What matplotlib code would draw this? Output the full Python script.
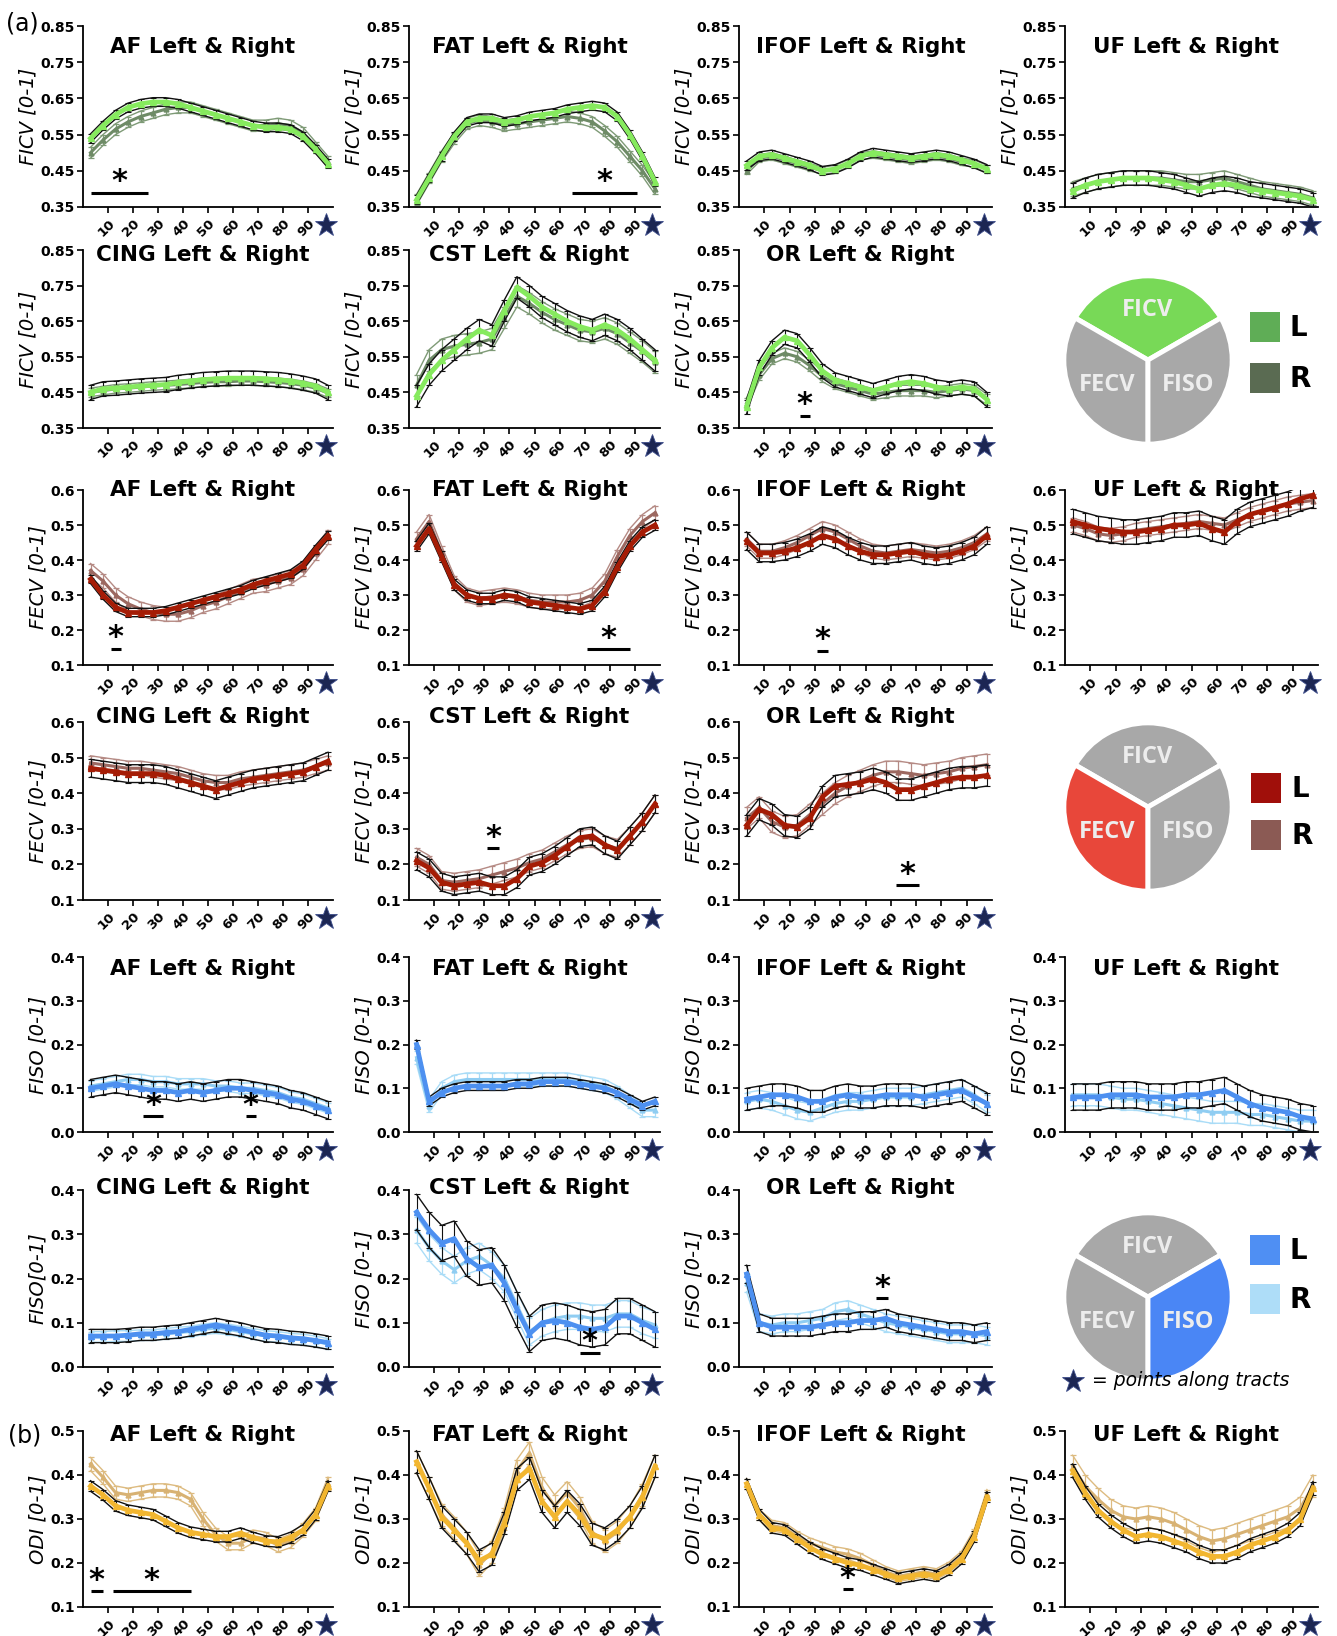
import matplotlib
matplotlib.use("Agg")
import matplotlib.pyplot as plt
from matplotlib.patches import Rectangle
import matplotlib.transforms as mtransforms

plt.rcParams['font.family'] = ['DejaVu Sans']

# ---------------- data ----------------
POINTS = [3, 8, 13, 18, 23, 28, 33, 38, 43, 48, 53, 58, 63, 68, 73, 78, 83, 88, 93, 98]
XTICKS = [10, 20, 30, 40, 50, 60, 70, 80, 90]

FICV_AF_L = [0.54,0.575,0.605,0.625,0.635,0.64,0.64,0.635,0.625,0.615,0.605,0.595,0.585,0.575,0.57,0.57,0.565,0.545,0.51,0.47]
FICV_AF_R = [0.50,0.535,0.565,0.585,0.60,0.61,0.62,0.625,0.625,0.615,0.605,0.595,0.585,0.575,0.575,0.58,0.575,0.555,0.515,0.475]
FICV_FAT_L = [0.37,0.43,0.49,0.545,0.585,0.595,0.595,0.585,0.59,0.60,0.605,0.61,0.62,0.625,0.63,0.625,0.60,0.55,0.49,0.42]
FICV_FAT_R = [0.37,0.43,0.49,0.54,0.58,0.59,0.585,0.575,0.58,0.585,0.59,0.595,0.60,0.595,0.585,0.56,0.53,0.49,0.45,0.40]
FICV_IFOF_L = [0.465,0.49,0.495,0.485,0.475,0.465,0.45,0.455,0.47,0.49,0.50,0.495,0.49,0.485,0.49,0.495,0.49,0.48,0.47,0.455]
FICV_IFOF_R = [0.45,0.485,0.49,0.48,0.47,0.46,0.45,0.455,0.47,0.49,0.495,0.49,0.485,0.48,0.485,0.49,0.485,0.475,0.47,0.455]
FICV_UF_L = [0.395,0.41,0.42,0.425,0.43,0.43,0.43,0.425,0.42,0.41,0.40,0.41,0.415,0.41,0.40,0.395,0.39,0.385,0.38,0.37]
FICV_UF_R = [0.40,0.41,0.42,0.425,0.43,0.43,0.43,0.43,0.425,0.42,0.42,0.425,0.43,0.42,0.41,0.40,0.395,0.39,0.385,0.375]
FICV_CING_L = [0.45,0.46,0.462,0.465,0.468,0.47,0.472,0.478,0.482,0.486,0.488,0.49,0.49,0.49,0.488,0.486,0.482,0.476,0.468,0.45]
FICV_CING_R = [0.45,0.455,0.46,0.462,0.465,0.468,0.47,0.472,0.475,0.478,0.48,0.48,0.482,0.482,0.48,0.478,0.475,0.47,0.462,0.448]
FICV_CST_L = [0.44,0.50,0.54,0.57,0.60,0.625,0.61,0.68,0.745,0.72,0.69,0.67,0.65,0.635,0.625,0.64,0.625,0.60,0.57,0.54]
FICV_CST_R = [0.47,0.54,0.57,0.58,0.585,0.59,0.60,0.66,0.72,0.70,0.675,0.655,0.64,0.625,0.62,0.63,0.615,0.59,0.565,0.535]
FICV_OR_L = [0.41,0.52,0.575,0.605,0.595,0.555,0.51,0.485,0.475,0.465,0.455,0.465,0.475,0.48,0.475,0.465,0.46,0.465,0.46,0.43]
FICV_OR_R = [0.42,0.50,0.545,0.56,0.55,0.525,0.495,0.475,0.465,0.455,0.445,0.45,0.455,0.455,0.455,0.45,0.455,0.46,0.455,0.43]

FECV_AF_L = [0.345,0.30,0.265,0.25,0.25,0.25,0.255,0.265,0.275,0.285,0.295,0.305,0.315,0.33,0.34,0.35,0.36,0.385,0.43,0.47]
FECV_AF_R = [0.37,0.34,0.30,0.275,0.26,0.25,0.245,0.245,0.255,0.27,0.28,0.295,0.31,0.325,0.33,0.34,0.35,0.375,0.42,0.465]
FECV_FAT_L = [0.44,0.49,0.41,0.33,0.30,0.29,0.29,0.30,0.295,0.28,0.275,0.27,0.265,0.26,0.27,0.31,0.38,0.44,0.48,0.50]
FECV_FAT_R = [0.46,0.51,0.42,0.335,0.30,0.29,0.295,0.30,0.295,0.285,0.28,0.28,0.28,0.285,0.30,0.34,0.41,0.47,0.51,0.535]
FECV_IFOF_L = [0.455,0.42,0.42,0.425,0.435,0.45,0.47,0.46,0.44,0.425,0.415,0.415,0.42,0.425,0.415,0.41,0.415,0.425,0.44,0.47]
FECV_IFOF_R = [0.46,0.425,0.425,0.435,0.45,0.47,0.49,0.48,0.46,0.44,0.425,0.42,0.425,0.43,0.425,0.42,0.425,0.435,0.45,0.475]
FECV_UF_L = [0.51,0.50,0.49,0.485,0.48,0.48,0.485,0.49,0.50,0.50,0.505,0.49,0.48,0.51,0.53,0.54,0.55,0.56,0.575,0.585]
FECV_UF_R = [0.50,0.49,0.475,0.47,0.475,0.485,0.49,0.495,0.50,0.505,0.51,0.505,0.50,0.515,0.53,0.54,0.55,0.56,0.565,0.57]
FECV_CING_L = [0.47,0.465,0.46,0.455,0.455,0.455,0.45,0.44,0.43,0.42,0.41,0.42,0.43,0.44,0.445,0.45,0.455,0.46,0.475,0.49]
FECV_CING_R = [0.485,0.48,0.475,0.47,0.47,0.465,0.46,0.455,0.445,0.435,0.43,0.43,0.44,0.445,0.45,0.455,0.46,0.465,0.475,0.485]
FECV_CST_L = [0.21,0.19,0.15,0.14,0.145,0.15,0.14,0.14,0.16,0.195,0.205,0.225,0.25,0.275,0.28,0.255,0.24,0.28,0.32,0.37]
FECV_CST_R = [0.22,0.20,0.155,0.15,0.155,0.16,0.17,0.18,0.19,0.205,0.215,0.235,0.255,0.27,0.275,0.255,0.245,0.28,0.32,0.37]
FECV_OR_L = [0.31,0.355,0.34,0.31,0.305,0.33,0.39,0.42,0.425,0.43,0.44,0.43,0.41,0.41,0.42,0.43,0.44,0.445,0.445,0.45]
FECV_OR_R = [0.33,0.36,0.32,0.305,0.31,0.34,0.37,0.40,0.42,0.435,0.45,0.46,0.46,0.455,0.45,0.455,0.46,0.47,0.475,0.48]

FISO_AF_L = [0.10,0.105,0.11,0.105,0.10,0.095,0.095,0.09,0.095,0.09,0.095,0.10,0.10,0.095,0.09,0.085,0.075,0.07,0.06,0.05]
FISO_AF_R = [0.105,0.11,0.115,0.12,0.12,0.115,0.115,0.11,0.11,0.11,0.105,0.105,0.10,0.10,0.095,0.09,0.08,0.075,0.065,0.055]
FISO_FAT_L = [0.20,0.07,0.09,0.10,0.105,0.105,0.105,0.105,0.11,0.11,0.115,0.115,0.115,0.11,0.105,0.10,0.09,0.075,0.06,0.07]
FISO_FAT_R = [0.17,0.06,0.10,0.115,0.12,0.12,0.12,0.12,0.12,0.12,0.12,0.12,0.12,0.115,0.11,0.105,0.09,0.07,0.05,0.05]
FISO_IFOF_L = [0.075,0.08,0.085,0.085,0.08,0.07,0.07,0.08,0.085,0.08,0.08,0.085,0.085,0.085,0.08,0.085,0.09,0.095,0.08,0.065]
FISO_IFOF_R = [0.07,0.075,0.07,0.06,0.05,0.045,0.055,0.065,0.07,0.07,0.075,0.08,0.08,0.08,0.085,0.09,0.095,0.10,0.085,0.065]
FISO_UF_L = [0.08,0.08,0.08,0.085,0.085,0.085,0.08,0.08,0.08,0.085,0.085,0.09,0.095,0.08,0.065,0.055,0.05,0.045,0.035,0.03]
FISO_UF_R = [0.085,0.085,0.085,0.08,0.075,0.075,0.07,0.065,0.06,0.055,0.05,0.045,0.045,0.045,0.04,0.04,0.035,0.03,0.025,0.025]
FISO_CING_L = [0.07,0.07,0.07,0.072,0.075,0.075,0.078,0.08,0.085,0.09,0.095,0.09,0.085,0.078,0.072,0.07,0.066,0.064,0.06,0.055]
FISO_CING_R = [0.068,0.068,0.07,0.07,0.072,0.072,0.075,0.078,0.08,0.085,0.088,0.085,0.08,0.075,0.07,0.068,0.064,0.062,0.058,0.052]
FISO_CST_L = [0.35,0.31,0.28,0.29,0.245,0.225,0.23,0.19,0.13,0.075,0.10,0.105,0.10,0.09,0.085,0.09,0.115,0.115,0.10,0.085]
FISO_CST_R = [0.31,0.27,0.24,0.22,0.24,0.25,0.23,0.20,0.14,0.08,0.10,0.11,0.115,0.115,0.11,0.11,0.12,0.12,0.105,0.095]
FISO_OR_L = [0.21,0.10,0.09,0.09,0.09,0.09,0.095,0.10,0.10,0.105,0.105,0.11,0.10,0.095,0.09,0.085,0.08,0.08,0.075,0.08]
FISO_OR_R = [0.19,0.10,0.095,0.10,0.10,0.105,0.11,0.125,0.13,0.12,0.11,0.10,0.095,0.09,0.085,0.08,0.075,0.075,0.075,0.07]

ODI_AF_L = [0.375,0.355,0.33,0.32,0.315,0.31,0.295,0.28,0.27,0.265,0.26,0.26,0.268,0.258,0.25,0.248,0.258,0.275,0.31,0.375]
ODI_AF_R = [0.425,0.395,0.36,0.355,0.36,0.365,0.365,0.36,0.345,0.30,0.265,0.245,0.245,0.26,0.255,0.24,0.25,0.275,0.31,0.38]
ODI_FAT_L = [0.43,0.37,0.305,0.275,0.245,0.205,0.22,0.29,0.39,0.415,0.34,0.305,0.34,0.31,0.265,0.255,0.275,0.305,0.35,0.42]
ODI_FAT_R = [0.43,0.37,0.31,0.28,0.245,0.195,0.225,0.30,0.41,0.45,0.37,0.33,0.36,0.325,0.27,0.25,0.27,0.305,0.355,0.42]
ODI_IFOF_L = [0.38,0.31,0.28,0.275,0.255,0.235,0.22,0.21,0.20,0.195,0.185,0.175,0.165,0.17,0.175,0.17,0.185,0.21,0.26,0.35]
ODI_IFOF_R = [0.38,0.31,0.285,0.28,0.26,0.245,0.235,0.225,0.22,0.21,0.195,0.18,0.17,0.175,0.18,0.175,0.19,0.215,0.265,0.355]
ODI_UF_L = [0.41,0.36,0.32,0.295,0.275,0.26,0.265,0.26,0.25,0.24,0.225,0.215,0.215,0.225,0.24,0.25,0.26,0.275,0.30,0.37]
ODI_UF_R = [0.42,0.375,0.345,0.32,0.305,0.30,0.305,0.30,0.29,0.275,0.26,0.25,0.255,0.265,0.275,0.285,0.295,0.305,0.325,0.375]

# error bar half-widths (per tract, in order AF, FAT, IFOF, UF, CING, CST, OR)
FICV_ERR_L = [0.012, 0.012, 0.012, 0.02, 0.02, 0.03, 0.02]
FICV_ERR_R = [0.015, 0.015, 0.010, 0.02, 0.012, 0.03, 0.015]
FECV_ERR_L = [0.012, 0.015, 0.025, 0.035, 0.025, 0.025, 0.03]
FECV_ERR_R = [0.02, 0.02, 0.02, 0.02, 0.02, 0.025, 0.03]
FISO_ERR_L = [0.02, 0.01, 0.025, 0.03, 0.015, 0.04, 0.02]
FISO_ERR_R = [0.012, 0.015, 0.02, 0.025, 0.012, 0.03, 0.02]
ODI_ERR_L = [0.012, 0.025, 0.012, 0.015]
ODI_ERR_R = [0.015, 0.025, 0.012, 0.025]

# significant ranges (start, end, level)
FICV_SIG = [[(3, 26, 0.39)], [(65, 91, 0.39)], [], [], [], [], [(24, 28, 0.385)]]
FECV_SIG = [[(11, 15, 0.147)], [(71, 88, 0.145)], [(31, 35, 0.14)], [], [], [(31, 36, 0.245)], [(62, 71, 0.141)]]
FISO_SIG = [[(24, 32, 0.036), (65, 69, 0.036)], [], [], [], [], [(68, 76, 0.032)], [(54, 59, 0.155)]]
ODI_SIG = [[(3, 8, 0.136), (12, 43, 0.136)], [], [(41, 45, 0.14)], []]

TRACTS = ['AF', 'FAT', 'IFOF', 'UF', 'CING', 'CST', 'OR']
YLIMS = {'FICV': (0.35, 0.85), 'FECV': (0.1, 0.6), 'FISO': (0.0, 0.4), 'ODI': (0.1, 0.5)}
YTICKS = {'FICV': [0.35, 0.45, 0.55, 0.65, 0.75, 0.85],
          'FECV': [0.1, 0.2, 0.3, 0.4, 0.5, 0.6],
          'FISO': [0.0, 0.1, 0.2, 0.3, 0.4],
          'ODI': [0.1, 0.2, 0.3, 0.4, 0.5]}
YTICKLABELS = {'FICV': ['0.35', '0.45', '0.55', '0.65', '0.75', '0.85'],
               'FECV': ['0.1', '0.2', '0.3', '0.4', '0.5', '0.6'],
               'FISO': ['0.0', '0.1', '0.2', '0.3', '0.4'],
               'ODI': ['0.1', '0.2', '0.3', '0.4', '0.5']}

# colours: (left marker, left error, right marker, right error)
COLORS = {'FICV': ('#86EA5E', '#111111', '#6E8B66', '#7E9A76'),
          'FECV': ('#A51C05', '#111111', '#9C6860', '#B58A84'),
          'FISO': ('#4D90F0', '#111111', '#8FCDF2', '#A9DCF7'),
          'ODI': ('#F2B630', '#111111', '#D8B273', '#DDBB80')}

DATA = {
    'FICV': [(FICV_AF_L, FICV_AF_R), (FICV_FAT_L, FICV_FAT_R), (FICV_IFOF_L, FICV_IFOF_R), (FICV_UF_L, FICV_UF_R),
             (FICV_CING_L, FICV_CING_R), (FICV_CST_L, FICV_CST_R), (FICV_OR_L, FICV_OR_R)],
    'FECV': [(FECV_AF_L, FECV_AF_R), (FECV_FAT_L, FECV_FAT_R), (FECV_IFOF_L, FECV_IFOF_R), (FECV_UF_L, FECV_UF_R),
             (FECV_CING_L, FECV_CING_R), (FECV_CST_L, FECV_CST_R), (FECV_OR_L, FECV_OR_R)],
    'FISO': [(FISO_AF_L, FISO_AF_R), (FISO_FAT_L, FISO_FAT_R), (FISO_IFOF_L, FISO_IFOF_R), (FISO_UF_L, FISO_UF_R),
             (FISO_CING_L, FISO_CING_R), (FISO_CST_L, FISO_CST_R), (FISO_OR_L, FISO_OR_R)],
    'ODI': [(ODI_AF_L, ODI_AF_R), (ODI_FAT_L, ODI_FAT_R), (ODI_IFOF_L, ODI_IFOF_R), (ODI_UF_L, ODI_UF_R)],
}
ERRS = {'FICV': (FICV_ERR_L, FICV_ERR_R), 'FECV': (FECV_ERR_L, FECV_ERR_R),
        'FISO': (FISO_ERR_L, FISO_ERR_R), 'ODI': (ODI_ERR_L, ODI_ERR_R)}
SIGS = {'FICV': FICV_SIG, 'FECV': FECV_SIG, 'FISO': FISO_SIG, 'ODI': ODI_SIG}

# ---------------- layout ----------------
W, H = 1337, 1636
fig = plt.figure(figsize=(W / 100, H / 100), dpi=100)

COL_X = [(83, 333), (409, 660), (739, 992), (1065, 1318)]
ROW_Y = [(26, 207), (250, 428), (490, 665), (722, 900), (957, 1132), (1190, 1367), (1431, 1607)]
TITLE_Y = [0.885, 0.97, 1.0, 1.03, 0.93, 1.01, 0.975]
ROW_MEASURE = ['FICV', 'FICV', 'FECV', 'FECV', 'FISO', 'FISO', 'ODI']
STAR_COLOR = '#1C2653'


def px_axes(l, t, r, b, **kw):
    return fig.add_axes([l / W, 1 - b / H, (r - l) / W, (b - t) / H], **kw)


def draw_panel(row, col, measure, tidx):
    l, r = COL_X[col]
    t, b = ROW_Y[row]
    ax = px_axes(l, t, r, b)
    Ld, Rd = DATA[measure][tidx]
    eL = ERRS[measure][0][tidx]
    eR = ERRS[measure][1][tidx]
    cL, ceL, cR, ceR = COLORS[measure]
    # right hemisphere
    ax.errorbar(POINTS, Rd, yerr=eR, fmt='none', ecolor=ceR, elinewidth=0.9, capsize=2.5, capthick=0.9, zorder=2)
    ax.plot(POINTS, [v + eR for v in Rd], color=ceR, lw=1.0, zorder=2)
    ax.plot(POINTS, [v - eR for v in Rd], color=ceR, lw=1.0, zorder=2)
    ax.plot(POINTS, Rd, color=cR, lw=2.2, marker='^', ms=3.5, zorder=3)
    # left hemisphere
    ax.errorbar(POINTS, Ld, yerr=eL, fmt='none', ecolor=ceL, elinewidth=0.8, capsize=2.5, capthick=0.8, zorder=4)
    ax.plot(POINTS, [v + eL for v in Ld], color=ceL, lw=1.0, zorder=4)
    ax.plot(POINTS, [v - eL for v in Ld], color=ceL, lw=1.0, zorder=4)
    ax.plot(POINTS, Ld, color=cL, lw=3.4, marker='^', ms=4.5, zorder=5)

    ax.set_xlim(0, 100)
    ax.set_ylim(*YLIMS[measure])
    ax.set_yticks(YTICKS[measure])
    ax.set_yticklabels(YTICKLABELS[measure], fontsize=10, fontweight='bold')
    ax.set_xticks(XTICKS)
    ax.set_xticklabels([str(v) for v in XTICKS], rotation=45, ha='right', va='top',
                       rotation_mode='anchor', fontsize=9.5, fontweight='bold')
    ax.tick_params(axis='both', direction='out', length=4, width=1.2, pad=2)
    ax.tick_params(axis='x', pad=3)
    for s in ['top', 'right']:
        ax.spines[s].set_visible(False)
    for s in ['left', 'bottom']:
        ax.spines[s].set_linewidth(1.3)
    tract = TRACTS[tidx]
    ylab = 'FISO[0-1]' if (measure == 'FISO' and tract == 'CING') else f'{measure} [0-1]'
    ax.set_ylabel(ylab, fontsize=14, fontstyle='italic', labelpad=2)
    ax.text(0.48, TITLE_Y[row], f'{tract} Left & Right', transform=ax.transAxes, ha='center', va='center',
            fontsize=15.5, fontweight='heavy')
    # star marking the end of the tract axis
    tr = mtransforms.offset_copy(ax.get_xaxis_transform(), fig=fig, x=0, y=-13, units='points')
    ax.plot([97], [0], transform=tr, marker='*', ms=17, color=STAR_COLOR, mec='#3C4C8A', mew=0.6,
            clip_on=False, zorder=10)
    # significance bars
    for (x0, x1, yv) in SIGS[measure][tidx]:
        ax.plot([x0, x1], [yv, yv], color='black', lw=2.2, solid_capstyle='butt', zorder=6)
        ax.annotate('*', ((x0 + x1) / 2, yv), xytext=(0, -2.5), textcoords='offset points',
                    ha='center', va='bottom', fontsize=22, fontweight='bold', zorder=6)
    return ax


for row in range(7):
    measure = ROW_MEASURE[row]
    if row in (0, 2, 4, 6):
        tids = [0, 1, 2, 3]
    else:
        tids = [4, 5, 6]
    for col, tidx in enumerate(tids):
        draw_panel(row, col, measure, tidx)

# ---------------- pies, legends, labels ----------------
PIE_LABELS = ['FICV', 'FECV', 'FISO']
PIE_SHARES = [1, 1, 1]
PIE_HIGHLIGHT = {'FICV': '#78D957', 'FECV': '#E8473A', 'FISO': '#4A86F5'}
PIE_CENTERS = [('FICV', 1148, 360), ('FECV', 1148, 807), ('FISO', 1148, 1297)]
LEG_SQUARES = {'FICV': [(1265, 327, '#5FAD56'), (1265, 378, '#5A6B52')],
               'FECV': [(1266, 788, '#A00F0A'), (1266, 835, '#8B5A54')],
               'FISO': [(1265, 1250, '#4F8FF3'), (1265, 1299, '#AEDDF8')]}

for measure, cx, cy in PIE_CENTERS:
    pa = px_axes(cx - 90, cy - 90, cx + 90, cy + 90)
    pa.patch.set_visible(False)
    cols = [PIE_HIGHLIGHT[m] if m == measure else '#A8A8A8' for m in PIE_LABELS]
    pa.pie(PIE_SHARES, colors=cols, startangle=30, counterclock=True,
           wedgeprops=dict(edgecolor='white', linewidth=3.5))
    pa.set_xlim(-1.07, 1.07)
    pa.set_ylim(-1.07, 1.07)
    pa.set_aspect('equal')
    pa.axis('off')
    for lab, (tx, ty) in zip(PIE_LABELS, [(0.0, 0.6), (-0.48, -0.3), (0.48, -0.3)]):
        pa.text(tx, ty, lab, ha='center', va='center', fontsize=17, fontweight='bold',
                color='#EDEDED', family=['Open Sans', 'DejaVu Sans'])

ov = fig.add_axes([0, 0, 1, 1], zorder=20)
ov.set_xlim(0, W)
ov.set_ylim(H, 0)
ov.axis('off')

for measure, cx, cy in PIE_CENTERS:
    for (sx, sy, sc), lt in zip(LEG_SQUARES[measure], ['L', 'R']):
        ov.add_patch(Rectangle((sx - 15, sy - 15), 30, 30, facecolor=sc, edgecolor='none'))
        ov.text(sx + 25, sy + 1, lt, ha='left', va='center', fontsize=20, fontweight='bold')

ov.plot([1073], [1381], marker='*', ms=17, color=STAR_COLOR, mec='#3C4C8A', mew=0.6)
ov.text(1092, 1381, '= points along tracts', ha='left', va='center', fontsize=13.5, fontstyle='italic')

ov.text(6, 23, '(a)', ha='left', va='center', fontsize=17)
ov.text(8, 1436, '(b)', ha='left', va='center', fontsize=17)

fig.savefig('out.png', dpi=100)
